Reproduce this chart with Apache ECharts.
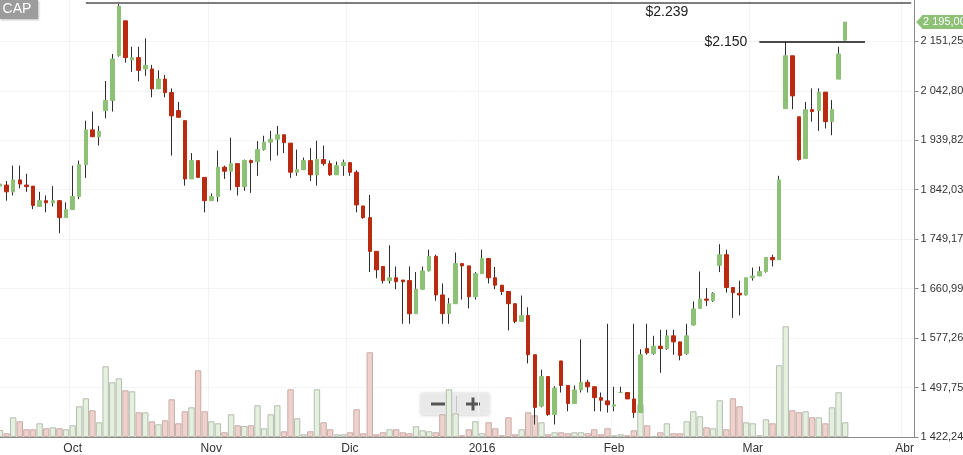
<!DOCTYPE html>
<html><head><meta charset="utf-8">
<script src="https://cdn.jsdelivr.net/npm/echarts/dist/echarts.min.js"></script>
<style>html,body{margin:0;padding:0;background:#fff}#c{width:963px;height:455px}</style>
</head><body><div id="c"></div>
<script>
// ---- trading days (categories) ----
const monthDays = [
 ['2015-09',[15,16,17,21,22,23,24,25,28,29,30]],
 ['2015-10',[1,2,5,6,7,8,9,13,14,15,16,19,20,21,22,23,26,27,28,29,30]],
 ['2015-11',[2,3,4,5,6,9,10,11,12,13,16,17,18,19,20,23,24,25,26,27,30]],
 ['2015-12',[1,2,3,4,7,9,10,11,14,15,16,17,18,21,22,23,24,28,29,30]],
 ['2016-01',[4,5,6,7,8,11,12,13,14,15,18,19,20,21,22,25,26,27,28,29]],
 ['2016-02',[1,2,3,4,5,8,9,10,11,12,15,16,17,18,19,22,23,24,25,26,29]],
 ['2016-03',[1,2,3,4,7,8,9,10,11,14,15,16,17,18,21,22,23,24,25,28,29,30,31]],
 ['2016-04',[1,4]]
];
const monthLabels = {'2015-10':'Oct','2015-11':'Nov','2015-12':'Dic','2016-01':'2016','2016-02':'Feb','2016-03':'Mar','2016-04':'Abr'};
const yTickValues = [1422.24,1497.75,1577.26,1660.99,1749.17,1842.03,1939.82,2042.80,2151.25];
const yTickLabels = ['1 422,24','1 497,75','1 577,26','1 660,99','1 749,17','1 842,03','1 939,82','2 042,80','2 151,25'];

// ---- prices ----
const open  = [1849,1851,1838,1861,1851,1849,1810,1821,1817,1821,1789,1804,1829,1891,1961,1947,2001,2022,2120,2198,2110,2115,2090,2090,2047,2068,2039,2001,1980,1863,1899,1866,1821,1829,1886,1878,1893,1848,1899,1897,1921,1936,1942,1951,1934,1876,1881,1899,1871,1901,1893,1871,1889,1895,1876,1811,1789,1727,1700,1675,1680,1676,1675,1618,1660,1692,1718,1650,1618,1635,1705,1701,1647,1687,1714,1680,1667,1656,1635,1605,1615,1550,1469,1515,1456,1540,1501,1473,1494,1506,1499,1482,1477,1469,1490,1490,1480,1459,1560,1552,1564,1560,1581,1571,1552,1599,1627,1643,1640,1702,1721,1663,1653,1650,1680,1683,1691,1716,1712,2005,2119,1988,1903,2003,2001,2040,1978,2068,2154];
const close = [1853,1838,1861,1853,1848,1812,1821,1817,1821,1789,1804,1829,1891,1961,1947,1958,2022,2112,2232,2115,2115,2087,2098,2047,2068,2039,1990,1987,1863,1899,1866,1821,1829,1886,1878,1893,1848,1899,1895,1921,1936,1942,1951,1935,1876,1881,1899,1871,1901,1893,1871,1889,1895,1876,1813,1789,1727,1694,1675,1680,1673,1673,1618,1660,1692,1718,1650,1618,1635,1705,1701,1647,1687,1714,1680,1667,1656,1635,1605,1615,1550,1467,1515,1456,1497,1501,1473,1494,1506,1499,1482,1478,1471,1471,1490,1480,1459,1550,1553,1564,1560,1581,1571,1549,1581,1626,1643,1641,1653,1721,1663,1654,1650,1680,1683,1691,1716,1712,1861,2119,2032,1901,2003,1999,2040,1978,2003,2123,2195];
const low   = [1841,1821,1831,1845,1838,1805,1809,1799,1810,1760,1789,1804,1824,1865,1947,1929,1985,1999,2117,2104,2084,2063,2075,2029,2047,2029,1909,1987,1850,1863,1866,1799,1821,1819,1863,1841,1831,1840,1836,1869,1919,1899,1909,1914,1865,1869,1881,1859,1850,1889,1869,1871,1869,1869,1799,1787,1690,1679,1670,1670,1660,1601,1601,1618,1659,1691,1640,1601,1601,1635,1642,1627,1642,1687,1670,1660,1650,1590,1602,1605,1536,1441,1467,1454,1441,1490,1461,1473,1490,1490,1461,1461,1459,1461,1489,1480,1451,1459,1550,1550,1521,1558,1550,1541,1550,1598,1626,1631,1638,1690,1654,1611,1615,1649,1675,1683,1689,1700,1712,2005,2004,1899,1903,1978,1959,1964,1950,2068,2153];
const high  = [1857,1859,1889,1889,1873,1849,1838,1831,1849,1822,1818,1889,1899,1980,1999,1969,2064,2123,2239,2198,2139,2139,2158,2099,2087,2077,2048,2019,1980,1914,1899,1866,1835,1919,1889,1945,1893,1901,1901,1938,1949,1959,1969,1951,1934,1921,1905,1924,1939,1929,1899,1897,1901,1895,1880,1811,1832,1727,1700,1738,1700,1676,1700,1690,1700,1730,1721,1670,1645,1725,1705,1701,1690,1730,1714,1699,1667,1656,1635,1649,1629,1550,1526,1515,1500,1540,1501,1501,1575,1510,1499,1490,1601,1499,1499,1490,1601,1559,1601,1581,1591,1591,1591,1571,1601,1639,1691,1662,1655,1740,1730,1663,1675,1680,1698,1700,1716,1721,1869,2150,2119,1988,2019,2048,2048,2040,2023,2139,2195];
const volume = [70,37,197,157,77,77,137,87,97,87,77,117,307,387,267,147,707,547,587,467,457,247,247,157,127,167,377,137,257,297,667,257,157,137,47,227,117,110,117,317,87,227,317,57,477,187,27,57,477,147,77,27,27,47,277,37,847,27,47,77,77,47,37,107,67,57,47,227,477,237,17,77,157,37,147,87,17,197,27,77,247,217,147,27,47,47,37,47,47,37,77,27,87,17,27,17,67,327,117,7,47,137,37,37,157,257,207,97,87,367,77,387,307,147,137,17,177,137,717,1107,267,247,257,197,197,137,297,447,147];
const resistanceHigh = 2239, resistanceMid = 2150;
const lastPriceLabel = '2 195,00';

// ---- helpers ----
const dates = monthDays.flatMap(([m, ds]) => ds.map(d => m + '-' + String(d).padStart(2, '0')));
const isMonthStart = i => i > 0 && dates[i].slice(0, 7) !== dates[i - 1].slice(0, 7);
const STEP = Math.log(yTickValues[8] / yTickValues[0]) / 8;
const U = p => Math.log(p / yTickValues[0]) / STEP;   // log price scale, ticks at integers
const UP = '#8cc176', DOWN = '#b92a10', WICK = '#2e2e2e';
const FONT = 'Liberation Sans, Arial, sans-serif';

const wickData = open.map((o, i) => [U(o), U(close[i]), U(low[i]), U(high[i])]);
const bodyData = open.map((o, i) => [U(o), U(close[i]), U(Math.min(o, close[i])), U(Math.max(o, close[i]))]);
const volData = volume.map((v, i) => ({
  value: v,
  itemStyle: close[i] >= open[i]
    ? {color: '#e5f0df', borderColor: '#b5bdb1', borderWidth: 1}
    : {color: '#f0d2cd', borderColor: '#c6aca8', borderWidth: 1}
}));
const lastIdx = dates.length - 1;
const lastClose = close[close.length - 1];

const chart = echarts.init(document.getElementById('c'), null, {renderer: 'canvas'});
chart.setOption({
  animation: false,
  backgroundColor: '#fff',
  textStyle: {fontFamily: FONT},
  grid: {left: -3.3, right: 48.5, top: -8.1, bottom: 18, containLabel: false, outerBoundsMode: 'none'},
  xAxis: {
    type: 'category', data: dates, boundaryGap: true,
    axisLine: {lineStyle: {color: '#8a8a8a', width: 1}},
    axisTick: {interval: i => isMonthStart(i), alignWithLabel: true, length: 4, lineStyle: {color: '#8a8a8a'}},
    axisLabel: {interval: i => isMonthStart(i), formatter: v => monthLabels[v.slice(0, 7)] || '',
      color: '#333', fontSize: 12, margin: 6, fontFamily: FONT},
    splitLine: {show: true, interval: i => isMonthStart(i), lineStyle: {color: '#f3f3f3'}}
  },
  yAxis: [{
    type: 'value', position: 'right', min: 0, max: 9, interval: 1,
    axisLine: {show: true, lineStyle: {color: '#8a8a8a'}},
    axisTick: {show: true, length: 4, lineStyle: {color: '#8a8a8a'}},
    axisLabel: {formatter: v => yTickLabels[v] || '', color: '#333', fontSize: 11, margin: 6, fontFamily: FONT},
    splitLine: {show: true, lineStyle: {color: '#f4f4f4'}}
  }, {
    type: 'value', min: 0, max: 4451, show: false, splitLine: {show: false}
  }],
  series: [{
    type: 'bar', yAxisIndex: 1, data: volData, barWidth: 6.4, z: 1, silent: true
  }, {
    type: 'candlestick', data: wickData, barWidth: 1, z: 2, silent: true,
    itemStyle: {color: WICK, color0: WICK, borderColor: WICK, borderColor0: WICK, borderWidth: 1}
  }, {
    type: 'candlestick', data: bodyData, barWidth: 4, z: 3, silent: true, clip: false,
    itemStyle: {color: UP, color0: DOWN, borderColor: UP, borderColor0: DOWN, borderWidth: 1},
    markLine: {
      symbol: 'none', silent: true, animation: false,
      data: [
        [{coord: [13, U(resistanceHigh)], lineStyle: {color: '#7d7d7d', width: 2, type: 'solid'}, label: {show: false}},
         {coord: [lastIdx, U(resistanceHigh)]}],
        [{coord: [115, U(resistanceMid)], lineStyle: {color: '#111', width: 1.5, type: 'solid'},
          label: {show: true, position: 'start', distance: 12, formatter: '$2.150', color: '#222', fontSize: 14,
                  fontFamily: FONT, padding: [8, 0, 0, 0]}},
         {coord: [131, U(resistanceMid)]}],
        {yAxis: U(lastClose), lineStyle: {color: 'rgba(0,0,0,0)', width: 1, type: 'solid'},
         label: {show: true, position: 'end', distance: 7.5, formatter: lastPriceLabel, color: '#fff',
                 backgroundColor: UP, fontSize: 11, fontFamily: FONT, padding: [2, 4, 1, 1], lineHeight: 11}}
      ]
    },
    markPoint: {
      silent: true, animation: false,
      data: [
        {coord: [101, U(resistanceHigh)], symbol: 'circle', symbolSize: 1, itemStyle: {color: 'rgba(0,0,0,0)'},
         label: {show: true, formatter: '$2.239', color: '#222', fontSize: 14, fontFamily: FONT, offset: [0, 9]}},
        {coord: [lastIdx, U(lastClose)], symbol: 'triangle', symbolSize: [13, 6], symbolRotate: 90,
         symbolOffset: [8, 0], itemStyle: {color: UP}, label: {show: false}}
      ]
    }
  }],
  graphic: [
    {type: 'group', left: 0, top: 0, z: 100, children: [
      {type: 'rect', shape: {x: 0, y: 0, width: 38, height: 19},
       style: {fill: '#9c9c9c', shadowBlur: 2, shadowColor: 'rgba(0,0,0,0.25)', shadowOffsetX: 1, shadowOffsetY: 1}},
      {type: 'text', x: 17, y: 9.5, style: {text: 'CAP', fill: '#fff', font: '14px ' + FONT, align: 'center', verticalAlign: 'middle'}}
    ]},
    {type: 'group', left: 420, top: 392, z: 100, children: [
      {type: 'rect', shape: {x: 0, y: 0, width: 70, height: 23, r: 4},
       style: {fill: 'rgba(236,236,236,0.85)', shadowBlur: 3, shadowColor: 'rgba(0,0,0,0.18)', shadowOffsetY: 1}},
      {type: 'line', shape: {x1: 11, y1: 12, x2: 25, y2: 12}, style: {stroke: '#555', lineWidth: 3}},
      {type: 'line', shape: {x1: 36.5, y1: 4, x2: 36.5, y2: 20}, style: {stroke: '#c4c4c4', lineWidth: 1}},
      {type: 'line', shape: {x1: 46, y1: 12, x2: 60, y2: 12}, style: {stroke: '#555', lineWidth: 3}},
      {type: 'line', shape: {x1: 53, y1: 5.5, x2: 53, y2: 18.5}, style: {stroke: '#555', lineWidth: 3}}
    ]}
  ]
});
</script></body></html>
